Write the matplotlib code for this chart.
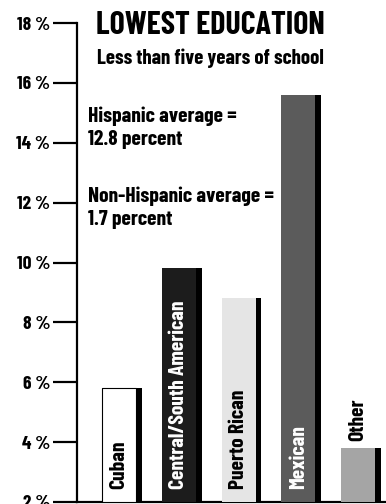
import matplotlib
matplotlib.use("Agg")
import matplotlib.pyplot as plt

# lowest education: share with less than five years of school
groups = ["Cuban", "Central/South American", "Puerto Rican", "Mexican", "Other"]
values = [5.8, 9.8, 8.8, 15.6, 3.8]
colors = ["#ffffff", "#1c1c1c", "#e5e5e5", "#5b5b5b", "#a5a5a5"]
label_colors = ["black", "white", "black", "white", "black"]
yticks = [2, 4, 6, 8, 10, 12, 14, 16, 18]

plt.rcParams['font.family'] = ['Barlow Condensed', 'DejaVu Sans']
plt.rcParams['font.weight'] = 'bold'

W, H = 386, 504
fig = plt.figure(figsize=(W / 100, H / 100), dpi=100)
# axes box in pixels: spine at x=77, 2% at y=502, 18% at y=23
ax = fig.add_axes([77 / W, (H - 502) / H, (W - 77) / W, (502 - 23) / H])
ax.set_ylim(2, 18)
ax.set_xlim(-0.753, 4.418)

full_w = 0.669   # bar plus black shadow
main_w = 0.569
x = range(len(groups))
ax.bar(x, [v - 2 for v in values], bottom=2, width=full_w, color="black", zorder=2)
for i, v in enumerate(values):
    ax.bar(i - full_w / 2, v - 2, bottom=2, width=main_w, align="edge",
           color=colors[i], edgecolor="black" if i == 0 else colors[i],
           linewidth=0.8 if i == 0 else 0, zorder=3)

for i, g in enumerate(groups):
    cx = i - full_w / 2 + main_w / 2
    y0 = values[i] + 0.23 if g == "Other" else 2.43
    ax.text(cx, y0, g, rotation=90, ha="center", va="bottom",
            fontsize=15.5, color=label_colors[i], zorder=4, clip_on=False)

ax.set_yticks(yticks)
ax.set_yticklabels([f"{t} %" for t in yticks], fontsize=14)
ax.tick_params(axis="y", direction="out", length=17.3, width=1.6, pad=2)
ax.tick_params(axis="x", length=0, labelbottom=False)
for s in ["top", "right"]:
    ax.spines[s].set_visible(False)
ax.spines["left"].set_linewidth(1.6)
ax.spines["bottom"].set_linewidth(1.6)
ax.spines["left"].set_zorder(5)

fig.text(96 / W, 1 - 11 / H, "LOWEST EDUCATION", fontsize=23, va="top", ha="left")
fig.text(97 / W, 1 - 48 / H, "Less than five years of school", fontsize=15,
         va="top", ha="left")
fig.text(88 / W, 1 - 107 / H, "Hispanic average =\n12.8 percent", fontsize=15.5,
         va="top", ha="left", linespacing=1.25)
fig.text(88 / W, 1 - 187 / H, "Non-Hispanic average =\n1.7 percent", fontsize=15.5,
         va="top", ha="left", linespacing=1.25)

fig.savefig("out.png", dpi=100)
